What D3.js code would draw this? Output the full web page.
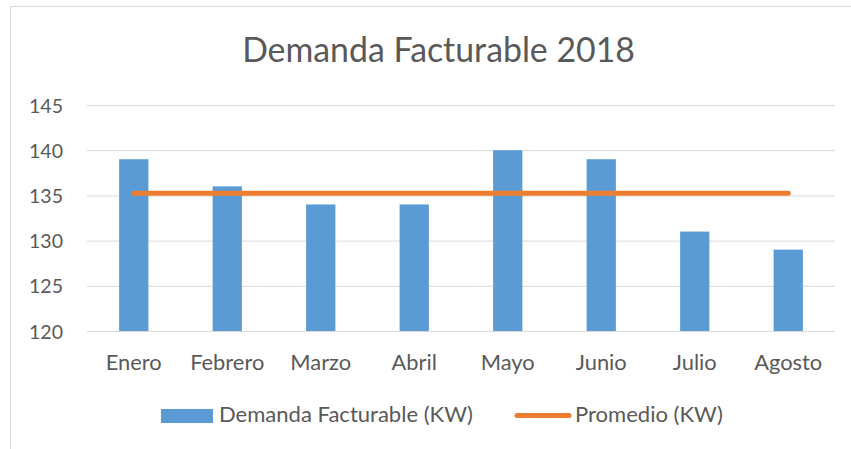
<!DOCTYPE html>
<html>
<head>
<meta charset="utf-8">
<script src="https://cdn.jsdelivr.net/npm/d3@7"></script>
<style>
  html, body { margin: 0; padding: 0; background: #fff; }
  svg { display: block; }
  text { font-family: Lato, "Open Sans", sans-serif; fill: #595959; }
</style>
</head>
<body>
<svg id="chart" width="851" height="449"></svg>
<script>
// Monthly billable demand, 2018
const months = ["Enero", "Febrero", "Marzo", "Abril", "Mayo", "Junio", "Julio", "Agosto"];
const demand = [139, 136, 134, 134, 140, 139, 131, 129];
const yTicks = [120, 125, 130, 135, 140, 145];
const seriesNames = ["Demanda Facturable (KW)", "Promedio (KW)"];
const titleText = "Demanda Facturable 2018";

const average = d3.mean(demand);
const avgLine = months.map(m => ({ month: m, value: average }));

const W = 851, H = 449;
const margin = { left: 87, right: 16, top: 105, bottom: 118 };
const svg = d3.select("#chart");

// Frame around the chart area
svg.append("rect")
  .attr("x", 10.5).attr("y", 6.5)
  .attr("width", W + 20).attr("height", H + 20)
  .attr("fill", "none").attr("stroke", "#d9d9d9").attr("stroke-width", 1);

const x = d3.scaleBand()
  .domain(months)
  .range([margin.left, W - margin.right])
  .paddingInner(0.687)
  .paddingOuter(0.3435);

const y = d3.scaleLinear()
  .domain([120, 145])
  .range([H - margin.bottom, margin.top]);

// Shrink or grow a text element's font size to a given rendered width
function fitWidth(sel, width) {
  sel.each(function () {
    const node = this;
    const fs = parseFloat(node.getAttribute("font-size"));
    const w = node.getComputedTextLength();
    if (w > 0) node.setAttribute("font-size", (fs * width / w).toFixed(2));
  });
}

// Gridlines + y labels
const yAxis = d3.axisLeft(y).tickValues(yTicks).tickSize(0).tickPadding(0);
const gy = svg.append("g").attr("transform", `translate(${margin.left},0)`).call(yAxis);
gy.select(".domain").remove();
gy.selectAll(".tick line")
  .attr("x2", W - margin.right - margin.left)
  .attr("stroke", "#d9d9d9").attr("stroke-width", 1);
gy.selectAll(".tick text")
  .attr("x", -24)
  .attr("dy", "0.36em")
  .attr("font-size", 20)
  .attr("fill", "#595959")
  .style("font-family", "Lato, sans-serif")
  .call(fitWidth, 34);

// Bars
svg.append("g").selectAll("rect")
  .data(months.map((m, i) => ({ month: m, value: demand[i] })))
  .join("rect")
  .attr("x", d => x(d.month))
  .attr("width", x.bandwidth())
  .attr("y", d => y(d.value))
  .attr("height", d => y(120) - y(d.value))
  .attr("fill", "#5b9bd5");

// Average line
const line = d3.line()
  .x(d => x(d.month) + x.bandwidth() / 2)
  .y(d => y(d.value));
svg.append("path")
  .datum(avgLine)
  .attr("d", line)
  .attr("fill", "none")
  .attr("stroke", "#ed7d31")
  .attr("stroke-width", 5)
  .attr("stroke-linecap", "round");

// x labels
const xAxis = d3.axisBottom(x).tickSize(0).tickPadding(0);
const gx = svg.append("g").attr("transform", `translate(0,${H - margin.bottom})`).call(xAxis);
gx.select(".domain").remove();
gx.selectAll(".tick text")
  .attr("y", 39)
  .attr("dy", 0)
  .attr("font-size", 20)
  .attr("fill", "#595959")
  .style("font-family", "Lato, sans-serif");
const enero = gx.selectAll(".tick text").filter(d => d === "Enero");
const scale = 56 / enero.node().getComputedTextLength();
gx.selectAll(".tick text").attr("font-size", (20 * scale).toFixed(2));

// Title
svg.append("text")
  .attr("x", 438.5).attr("y", 62)
  .attr("text-anchor", "middle")
  .attr("font-size", 30)
  .text(titleText)
  .call(fitWidth, 393);

// Legend
const lg = svg.append("g");
lg.append("rect")
  .attr("x", 161).attr("y", 409).attr("width", 52).attr("height", 14)
  .attr("fill", "#5b9bd5");
const lt1 = lg.append("text")
  .attr("x", 219).attr("y", 422)
  .attr("font-size", 20)
  .text(seriesNames[0])
  .call(fitWidth, 254);
lg.append("line")
  .attr("x1", 517).attr("x2", 569).attr("y1", 415.5).attr("y2", 415.5)
  .attr("stroke", "#ed7d31").attr("stroke-width", 5).attr("stroke-linecap", "round");
lg.append("text")
  .attr("x", 575).attr("y", 422)
  .attr("font-size", lt1.attr("font-size"))
  .text(seriesNames[1]);
</script>
</body>
</html>
